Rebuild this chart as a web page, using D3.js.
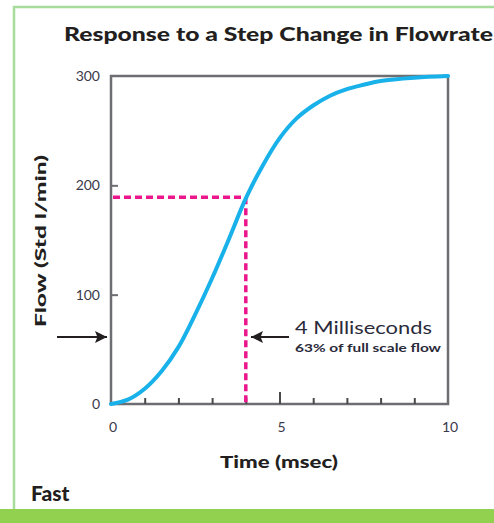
<!DOCTYPE html>
<html><head><meta charset="utf-8">
<script src="https://cdn.jsdelivr.net/npm/d3@7"></script>
<style>body{margin:0;background:#fff;}svg{display:block;}</style>
</head><body>
<svg id="c" width="494" height="523"></svg>
<script>
const time = [0, 0.5, 1, 1.5, 2, 2.5, 3, 3.5, 4, 4.5, 5, 5.5, 6, 6.5, 7, 7.5, 8, 9, 10];
const flow = [0, 4, 14, 30, 52, 82, 115, 151, 188, 218, 243, 261, 273, 282, 288, 292, 295.5, 298.5, 300];
const yTicks = [0, 100, 200, 300];
const xTickLabels = [0, 5, 10];
const xMinorTicks = [1, 2, 3, 4, 6, 7, 8, 9];
const xMajorTicks = [5];
const markTime = 4;
const markFlow = 189;

const svg = d3.select("#c");
const x = d3.scaleLinear().domain([0, 10]).range([111, 448]);
const y = d3.scaleLinear().domain([0, 300]).range([404, 76]);

// green frame
svg.append("path").attr("d", "M14,509 L14,7 L494,7").attr("fill", "none")
  .attr("stroke", "#a6dc9c").attr("stroke-width", 2.5);
svg.append("rect").attr("x", 0).attr("y", 509).attr("width", 494).attr("height", 14).attr("fill", "#92d050");

// title
svg.append("text").attr("x", 64).attr("y", 41).text("Response to a Step Change in Flowrate")
  .attr("font-family", "Lato, 'Open Sans', sans-serif").attr("font-weight", 900).attr("font-size", 19)
  .attr("fill", "#231f20").attr("textLength", 429).attr("lengthAdjust", "spacingAndGlyphs");

// frame
const g = svg.append("g");
g.append("rect").attr("x", x(0)).attr("y", y(300)).attr("width", x(10) - x(0)).attr("height", y(0) - y(300))
  .attr("fill", "none").attr("stroke", "#6d6e71").attr("stroke-width", 2.5);

// y ticks
const yAxis = d3.axisRight(y).tickValues(yTicks.filter(d => d > 0 && d < 300)).tickSize(7).tickFormat("");
const ya = g.append("g").attr("transform", `translate(${x(0)},0)`).call(yAxis);
ya.select(".domain").remove();
ya.selectAll("line").attr("stroke", "#6d6e71").attr("stroke-width", 2);

// y tick labels
g.selectAll(".yl").data(yTicks).join("text").attr("class", "yl")
  .attr("x", 100).attr("y", d => y(d) + 5).attr("text-anchor", "end").text(d => d)
  .attr("font-family", "Lato, sans-serif").attr("font-size", 14).attr("fill", "#3a3a4a");

// x ticks
const xMinor = d3.axisTop(x).tickValues(xMinorTicks).tickSize(6).tickFormat("");
const xa1 = g.append("g").attr("transform", `translate(0,${y(0)})`).call(xMinor);
const xMajor = d3.axisTop(x).tickValues(xMajorTicks).tickSize(12).tickFormat("");
const xa2 = g.append("g").attr("transform", `translate(0,${y(0)})`).call(xMajor);
[xa1, xa2].forEach(a => { a.select(".domain").remove(); a.selectAll("line").attr("stroke", "#4a4a4a").attr("stroke-width", 2); });

g.selectAll(".xl").data(xTickLabels).join("text").attr("class", "xl")
  .attr("x", d => x(d) + 2).attr("y", 432).attr("text-anchor", "middle").text(d => d)
  .attr("font-family", "Lato, sans-serif").attr("font-size", 14).attr("fill", "#3a3a4a");

// dashed markers
const pink = "#ec168c";
g.append("line").attr("x1", x(0) + 2).attr("x2", x(markTime)).attr("y1", y(markFlow)).attr("y2", y(markFlow))
  .attr("stroke", pink).attr("stroke-width", 3.5).attr("stroke-dasharray", "7,4");
g.append("line").attr("x1", x(markTime)).attr("x2", x(markTime)).attr("y1", y(markFlow)).attr("y2", y(0))
  .attr("stroke", pink).attr("stroke-width", 3.5).attr("stroke-dasharray", "7,4");

// curve
const line = d3.line().x((d, i) => x(time[i])).y(d => y(d)).curve(d3.curveCatmullRom.alpha(0.5));
g.append("path").datum(flow).attr("d", line).attr("fill", "none")
  .attr("stroke", "#19b1e9").attr("stroke-width", 4).attr("stroke-linecap", "round");

// arrows
const defs = svg.append("defs");
defs.append("marker").attr("id", "ah").attr("viewBox", "0 0 10 10").attr("refX", 10).attr("refY", 5)
  .attr("markerWidth", 22).attr("markerHeight", 12).attr("markerUnits", "userSpaceOnUse").attr("orient", "auto")
  .append("path").attr("d", "M0,0 L10,5 L0,10 L2,5 Z").attr("fill", "#231f20");
const ay = 337;
svg.append("line").attr("x1", 57).attr("x2", 107).attr("y1", ay).attr("y2", ay)
  .attr("stroke", "#231f20").attr("stroke-width", 1.8).attr("marker-end", "url(#ah)");
svg.append("line").attr("x1", 289).attr("x2", 251).attr("y1", ay).attr("y2", ay)
  .attr("stroke", "#231f20").attr("stroke-width", 1.8).attr("marker-end", "url(#ah)");

svg.append("text").attr("x", 295).attr("y", 334).text("4 Milliseconds")
  .attr("font-family", "Lato, sans-serif").attr("font-size", 18).attr("fill", "#2a2a3a")
  .attr("textLength", 137).attr("lengthAdjust", "spacingAndGlyphs");
svg.append("text").attr("x", 295).attr("y", 352).text("63% of full scale flow")
  .attr("font-family", "Lato, sans-serif").attr("font-weight", 700).attr("font-size", 11.5).attr("fill", "#2a2a3a")
  .attr("textLength", 146).attr("lengthAdjust", "spacingAndGlyphs");

// axis titles
svg.append("text").attr("transform", "translate(46,241) rotate(-90)").attr("text-anchor", "middle")
  .text("Flow (Std l/min)").attr("font-family", "Lato, sans-serif").attr("font-weight", 900)
  .attr("font-size", 15).attr("fill", "#231f20").attr("textLength", 172).attr("lengthAdjust", "spacingAndGlyphs");
svg.append("text").attr("x", 279).attr("y", 468).attr("text-anchor", "middle").text("Time (msec)")
  .attr("font-family", "Lato, sans-serif").attr("font-weight", 900).attr("font-size", 16).attr("fill", "#231f20")
  .attr("textLength", 118).attr("lengthAdjust", "spacingAndGlyphs");

svg.append("text").attr("x", 31).attr("y", 501).text("Fast")
  .attr("font-family", "Lato, sans-serif").attr("font-weight", 900).attr("font-size", 21).attr("fill", "#231f20");
</script>
</body></html>
